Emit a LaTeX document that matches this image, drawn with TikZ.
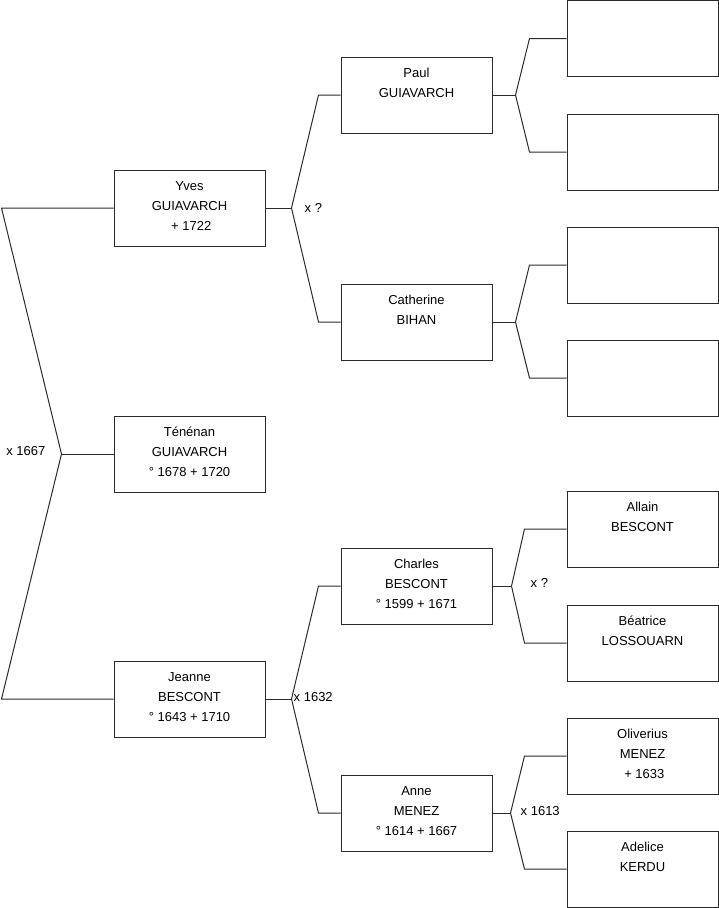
\documentclass[tikz,border=0pt]{standalone}
\usepackage{fontspec}
\setmainfont{Liberation Sans}
\usetikzlibrary{positioning}
\definecolor{linegray}{HTML}{2b2b2b}

\tikzset{
  pbox/.style={draw=linegray, line width=1pt, minimum width=151pt, minimum height=76pt,
    inner sep=0pt, align=center, font=\fontsize{13}{20}\selectfont},
  fork/.style={draw=linegray, line width=1pt},
  mlab/.style={inner sep=0pt, font=\fontsize{13}{15}\selectfont}
}

\begin{document}
\begin{tikzpicture}[x=1pt, y=-1pt]
    \useasboundingbox (0,0) rectangle (719,908);
    % persons, one box each (name / x / y / three lines)
    \foreach \nm/\px/\py/\la/\lb/\lc in {%
      yves/189.5/208/Yves/GUIAVARCH/{~+ 1722},
      tenenan/189.5/454/Ténénan/GUIAVARCH/{° 1678 + 1720},
      jeanne/189.5/699/Jeanne/BESCONT/{° 1643 + 1710},
      paul/416.5/95/Paul/GUIAVARCH/{},
      catherine/416.5/322/Catherine/BIHAN/{},
      charles/416.5/586/Charles/BESCONT/{° 1599 + 1671},
      anne/416.5/813/Anne/MENEZ/{° 1614 + 1667},
      pfa/642.5/38.5/{}/{}/{},
      pmo/642.5/152/{}/{}/{},
      cfa/642.5/265/{}/{}/{},
      cmo/642.5/378/{}/{}/{},
      allain/642.5/529/Allain/BESCONT/{},
      beatrice/642.5/643/Béatrice/LOSSOUARN/{},
      oliverius/642.5/756/Oliverius/MENEZ/{~+ 1633},
      adelice/642.5/869/Adelice/KERDU/{}%
    } {
      \node[pbox] (\nm) at (\px,\py)
        {\strut\la\\\strut\lb\\\strut\lc\rule[-10pt]{0pt}{10pt}};
    }
    % first couple, fork to the left
    \coordinate (mtenenan) at ([xshift=-52pt]tenenan.west);
    \draw[fork] (yves.west) -- ([xshift=-112pt]yves.west) -- (mtenenan)
      -- ([xshift=-112pt]jeanne.west) -- (jeanne.west);
    \draw[fork] (tenenan.west) -- (mtenenan);
    % other couples (child / father / mother / fork gap / arm length)
    \foreach \kid/\fa/\mo/\d/\a in {%
      yves/paul/catherine/26/22,
      jeanne/charles/anne/26/22,
      paul/pfa/pmo/23/37,
      catherine/cfa/cmo/23/37,
      charles/allain/beatrice/19/42,
      anne/oliverius/adelice/18/42%
    } {
      \coordinate (m\kid) at ([xshift=\d pt]\kid.east);
      \draw[fork] (\fa.west) -- ([xshift=-\a pt]\fa.west) -- (m\kid)
        -- ([xshift=-\a pt]\mo.west) -- (\mo.west);
      \draw[fork] (\kid.east) -- (m\kid);
    }
    % marriage dates
    \node[mlab, left=16pt] (d1667) at ([yshift=3pt]mtenenan) {x 1667};
    \node[mlab, right=13pt] (dyves) at ([yshift=0pt]myves) {x ?};
    \node[mlab, right=2pt] (d1632) at ([yshift=2pt]mjeanne) {x 1632};
    \node[mlab, right=19pt] (dcharles) at ([yshift=3pt]mcharles) {x ?};
    \node[mlab, right=10pt] (d1613) at ([yshift=2pt]manne) {x 1613};
  \end{tikzpicture}
\end{document}
